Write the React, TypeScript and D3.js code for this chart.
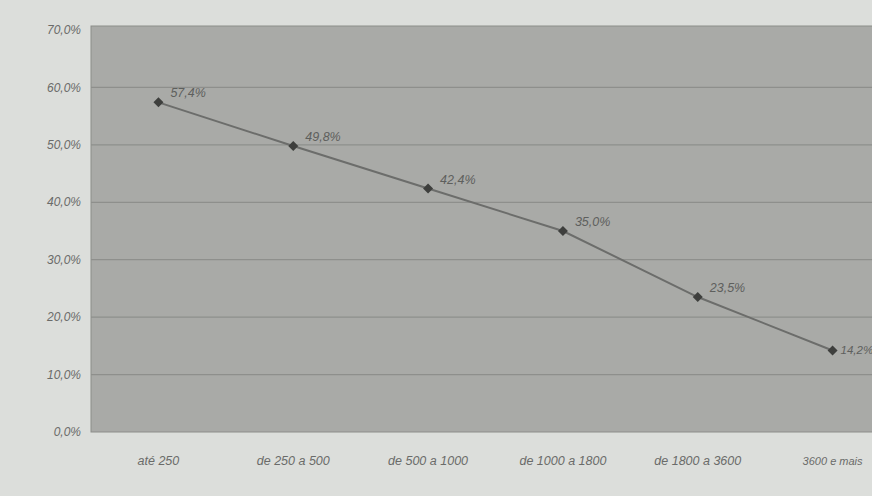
import React from "react";
import * as d3 from "d3";

const categories = ["até 250", "de 250 a 500", "de 500 a 1000", "de 1000 a 1800", "de 1800 a 3600", "3600 e mais"];
const values = [57.4, 49.8, 42.4, 35.0, 23.5, 14.2];
const yTicks = [0, 10, 20, 30, 40, 50, 60, 70];

const W = 872;
const H = 496;
const plot = { left: 91, right: 900, top: 26, bottom: 432 };

const fmt = (v: number) => v.toFixed(1).replace(".", ",") + "%";

export default function App() {
  const x = d3.scalePoint<string>().domain(categories).range([plot.left, plot.right]).padding(0.5);
  const y = d3.scaleLinear().domain([0, 70]).range([plot.bottom, plot.top + 4]);
  const line = d3
    .line<number>()
    .x((_, i) => x(categories[i]) as number)
    .y((d) => y(d));
  const font = "'Liberation Sans', Arial, sans-serif";
  return (
    <svg
      width={W}
      height={H}
      style={{ position: "absolute", left: 0, top: 0, display: "block" }}
      fontFamily={font}
    >
      <rect x={0} y={0} width={W} height={H} fill="#dcdedb" />
      <rect
        x={plot.left}
        y={plot.top}
        width={plot.right - plot.left}
        height={plot.bottom - plot.top}
        fill="#a9aaa7"
        stroke="#8c8d8a"
      />
      {yTicks.slice(1, -1).map((t) => (
        <line key={t} x1={plot.left} x2={plot.right} y1={y(t)} y2={y(t)} stroke="#8e8f8c" strokeWidth={1.2} />
      ))}
      {yTicks.map((t) => (
        <text
          key={t}
          x={plot.left - 10}
          y={y(t)}
          dy="0.35em"
          textAnchor="end"
          fontSize={12}
          fontStyle="italic"
          fill="#6a6b69"
        >
          {fmt(t)}
        </text>
      ))}
      {categories.map((c, i) => (
        <text
          key={c}
          x={x(c) as number}
          y={plot.bottom + 33}
          textAnchor="middle"
          fontSize={i === categories.length - 1 ? 11 : 12.5}
          fontStyle="italic"
          fill="#6a6b69"
        >
          {c}
        </text>
      ))}
      <path d={line(values) || ""} fill="none" stroke="#6c6d6b" strokeWidth={2} />
      {values.map((v, i) => {
        const cx = x(categories[i]) as number;
        const cy = y(v);
        const last = i === values.length - 1;
        return (
          <g key={i}>
            <path
              d={`M${cx},${cy - 5}L${cx + 5},${cy}L${cx},${cy + 5}L${cx - 5},${cy}Z`}
              fill="#3e3f3d"
            />
            <text
              x={cx + (last ? 8 : 12)}
              y={cy - (last ? 0 : 5)}
              dy={last ? "0.35em" : 0}
              fontSize={last ? 11.5 : 12.5}
              fontStyle="italic"
              fill="#5e5f5d"
            >
              {fmt(v)}
            </text>
          </g>
        );
      })}
    </svg>
  );
}
